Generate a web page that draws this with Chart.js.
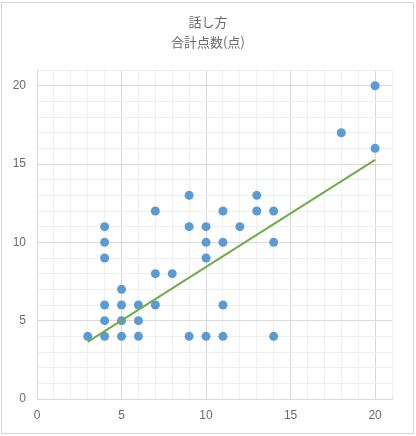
<!DOCTYPE html>
<html>
<head>
<meta charset="utf-8">
<script src="https://cdn.jsdelivr.net/npm/chart.js@4/dist/chart.umd.min.js"></script>
<style>
  html, body { margin: 0; padding: 0; background: #fff; }
  #wrap { position: relative; width: 416px; height: 436px; }
  #frame { position: absolute; left: 1px; top: 2px; width: 411px; height: 430px;
           border: 1px solid #d4d4d4; pointer-events: none; }
  canvas { display: block; }
</style>
</head>
<body>
<div id="wrap">
  <canvas id="chart" width="416" height="436"></canvas>
  <div id="frame"></div>
</div>
<script>
// 合計点数 (x) と 話し方 (y) の散布図
const titleLines = ['話し方', '合計点数(点)'];
const xValues = [3, 4, 4, 4, 4, 4, 4, 5, 5, 5, 5, 6, 6, 6, 7, 7, 7, 8, 9, 9, 9,
                 10, 10, 10, 10, 11, 11, 11, 11, 12, 13, 13, 14, 14, 14, 18, 20, 20];
const yValues = [4, 4, 5, 6, 9, 10, 11, 4, 5, 6, 7, 4, 5, 6, 6, 8, 12, 8, 4, 11, 13,
                 4, 9, 10, 11, 4, 6, 10, 12, 11, 12, 13, 4, 10, 12, 17, 16, 20];
// 線形近似曲線の両端
const trendX = [3, 20];
const trendY = [3.65, 15.27];
const axisMin = 0;
const axisMax = 21;
const majorStep = 5;

const points = xValues.map((x, i) => ({ x: x, y: yValues[i] }));
const trend = trendX.map((x, i) => ({ x: x, y: trendY[i] }));

const tickFont = { family: "'Liberation Sans', 'DejaVu Sans', sans-serif", size: 12 };
const gridColor = ctx => (ctx.tick && ctx.tick.value % majorStep === 0) ? '#d9d9d9' : '#efefef';
const tickLabel = v => (v % majorStep === 0 ? String(v) : '');

new Chart(document.getElementById('chart'), {
  type: 'scatter',
  data: {
    datasets: [
      {
        label: '話し方',
        data: points,
        backgroundColor: '#5b9bd5',
        borderColor: '#5b9bd5',
        borderWidth: 0,
        pointRadius: 4.5,
        order: 1
      },
      {
        label: '線形近似',
        data: trend,
        type: 'line',
        showLine: true,
        borderColor: '#70ad47',
        borderWidth: 2,
        pointRadius: 0,
        fill: false,
        order: 0
      }
    ]
  },
  options: {
    responsive: false,
    animation: false,
    layout: { padding: 0 },
    plugins: {
      legend: { display: false },
      tooltip: { enabled: false },
      title: {
        display: true,
        text: titleLines,
        color: '#6a6a6a',
        font: { family: "'Noto Sans CJK JP', 'Noto Sans', sans-serif", size: 13, weight: 'normal', lineHeight: 1.54 },
        padding: { top: 12, bottom: 18 }
      }
    },
    scales: {
      x: {
        type: 'linear',
        min: axisMin,
        max: axisMax,
        afterFit: s => { s.height = 37; },
        ticks: {
          stepSize: 1,
          autoSkip: false,
          maxRotation: 0,
          padding: 9,
          color: '#6a6a6a',
          font: tickFont,
          callback: tickLabel
        },
        grid: { color: gridColor, drawTicks: false, lineWidth: 1 },
        border: { display: true, color: '#d9d9d9' }
      },
      y: {
        type: 'linear',
        min: axisMin,
        max: axisMax,
        afterFit: s => { s.width = 37; },
        ticks: {
          stepSize: 1,
          autoSkip: false,
          padding: 11,
          color: '#6a6a6a',
          font: tickFont,
          callback: tickLabel
        },
        grid: { color: gridColor, drawTicks: false, lineWidth: 1 },
        border: { display: true, color: '#d9d9d9' }
      },
      yRight: {
        type: 'linear',
        position: 'right',
        display: true,
        afterFit: s => { s.width = 24; },
        ticks: { display: false },
        grid: { display: false, drawTicks: false },
        border: { display: false }
      }
    }
  }
});
</script>
</body>
</html>
